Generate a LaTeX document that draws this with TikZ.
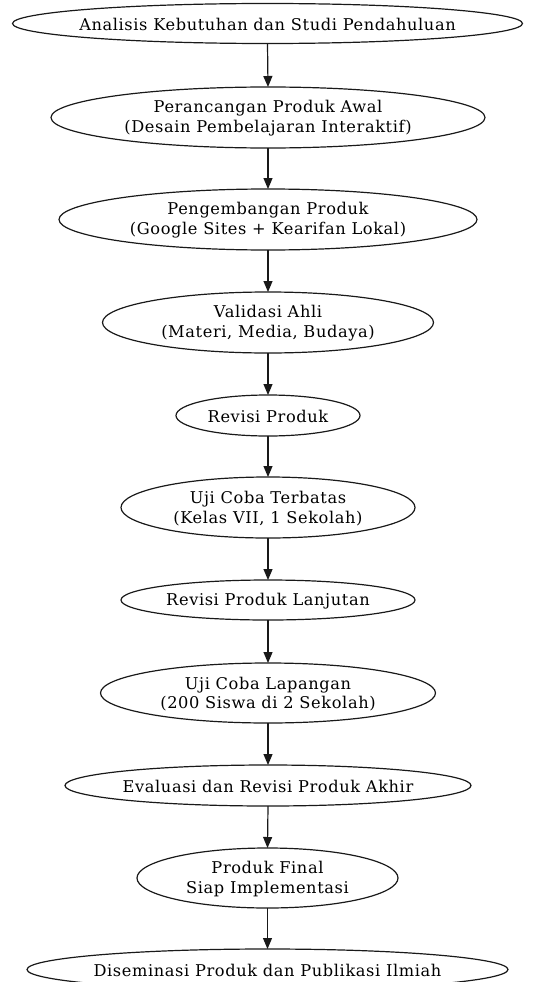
\documentclass[tikz,border=0pt]{standalone}
\usepackage{fontspec}
\setmainfont{DejaVu Serif}[LetterSpace=3.8]
\usetikzlibrary{shapes.geometric,arrows.meta}
\begin{document}
\begin{tikzpicture}[x=1pt,y=-1pt,
  ell/.style={draw=black!90,line width=1.2pt,ellipse,inner sep=0pt,outer sep=0pt},
  txt/.style={align=center,font=\fontsize{16.2}{19.8}\selectfont,inner sep=0pt,text=black,yshift=-1pt},
  arr/.style={draw=black!90,line width=1.2pt,-{Triangle[length=11pt,width=9pt]}}]
\useasboundingbox (0,0) rectangle (535,982);
\node[ell,minimum width=510pt,minimum height=40pt] (n1) at (267.5,23.5) {};
\node[txt] (t1) at (n1) {Analisis Kebutuhan dan Studi Pendahuluan};
\node[ell,minimum width=434pt,minimum height=61pt] (n2) at (268,117.5) {};
\node[txt] (t2) at (n2) {Perancangan Produk Awal\\(Desain Pembelajaran Interaktif)};
\node[ell,minimum width=418pt,minimum height=61pt] (n3) at (268,219.5) {};
\node[txt] (t3) at (n3) {Pengembangan Produk\\(Google Sites + Kearifan Lokal)};
\node[ell,minimum width=331pt,minimum height=61pt] (n4) at (268,322.5) {};
\node[txt] (t4) at (n4) {Validasi Ahli\\(Materi, Media, Budaya)};
\node[ell,minimum width=184pt,minimum height=41pt] (n5) at (268,415.5) {};
\node[txt] (t5) at (n5) {Revisi Produk};
\node[ell,minimum width=294pt,minimum height=61pt] (n6) at (268,507.5) {};
\node[txt] (t6) at (n6) {Uji Coba Terbatas\\(Kelas VII, 1 Sekolah)};
\node[ell,minimum width=294pt,minimum height=40pt] (n7) at (268,600) {};
\node[txt] (t7) at (n7) {Revisi Produk Lanjutan};
\node[ell,minimum width=335pt,minimum height=60pt] (n8) at (268,693) {};
\node[txt] (t8) at (n8) {Uji Coba Lapangan\\(200 Siswa di 2 Sekolah)};
\node[ell,minimum width=406pt,minimum height=41pt] (n9) at (268,785.5) {};
\node[txt] (t9) at (n9) {Evaluasi dan Revisi Produk Akhir};
\node[ell,minimum width=261pt,minimum height=60pt] (n10) at (267.5,878) {};
\node[txt] (t10) at (n10) {Produk Final\\Siap Implementasi};
\node[ell,minimum width=481pt,minimum height=41pt] (n11) at (267.5,969.5) {};
\node[txt] (t11) at (n11) {Diseminasi Produk dan Publikasi Ilmiah};
\foreach \a/\b in {n1/n2,n2/n3,n3/n4,n4/n5,n5/n6,n6/n7,n7/n8,n8/n9,n9/n10,n10/n11}
  \draw[arr] (\a.south) -- (\b.north);
\end{tikzpicture}
\end{document}
